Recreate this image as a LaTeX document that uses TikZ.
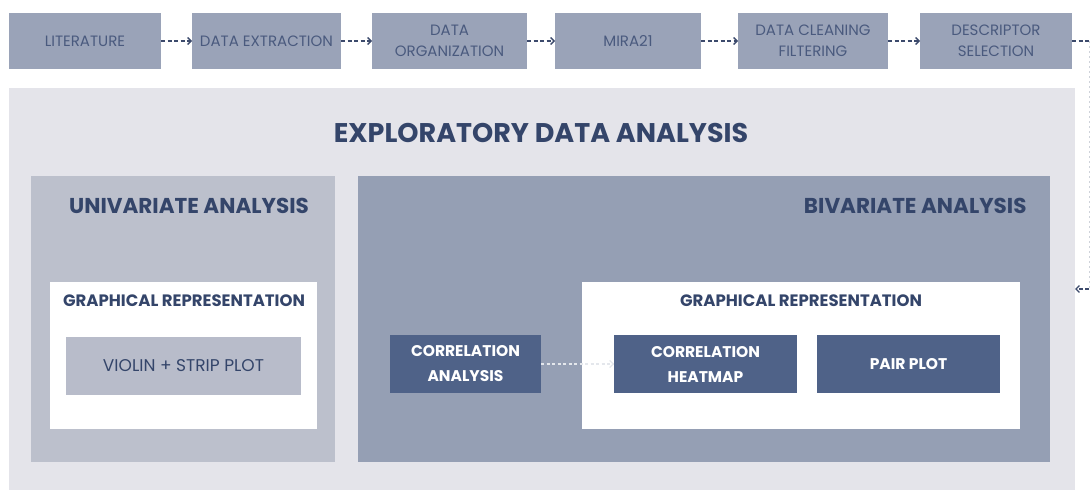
\documentclass[tikz,border=0pt]{standalone}
\usepackage{fontspec}
\setmainfont{Poppins}
\usetikzlibrary{arrows.meta}
\definecolor{topbox}{HTML}{9AA3B8}
\definecolor{toptext}{HTML}{4A5A7E}
\definecolor{edabg}{HTML}{E4E4EA}
\definecolor{unibg}{HTML}{BCC0CC}
\definecolor{bibg}{HTML}{959FB4}
\definecolor{violin}{HTML}{B8BCCA}
\definecolor{darkbox}{HTML}{4F6288}
\definecolor{titlec}{HTML}{34456A}
\definecolor{arrowc}{HTML}{3C4A6C}
\tikzset{
  box/.style={inner sep=0pt, outer sep=0pt, anchor=north west},
  topstep/.style={box, fill=topbox, text=toptext, font=\fontsize{15}{21}\selectfont, align=center},
  darkstep/.style={box, fill=darkbox, text=white, font=\fontsize{15.5}{25}\selectfont\bfseries, align=center},
  flow/.style={draw=arrowc, line width=1.3pt, dash pattern=on 4pt off 2.5pt, -{Straight Barb[length=3.5pt,width=7pt]}},
  faintflow/.style={draw=arrowc!25, line width=0.8pt, dash pattern=on 2pt off 3pt},
  lightflow/.style={draw=white!75!bibg, line width=1.2pt, dash pattern=on 3pt off 2.5pt, -{Straight Barb[length=3.5pt,width=7pt]}},
}
\begin{document}
\begin{tikzpicture}[x=1pt,y=-1pt]
\useasboundingbox (0,0) rectangle (1092,490);
\fill[white] (0,0) rectangle (1092,490);
% top row
\node[topstep, minimum width=152pt, minimum height=56pt] (lit) at (9,13) {LITERATURE};
\node[topstep, minimum width=149pt, minimum height=56pt] (ext) at (192,13) {DATA EXTRACTION};
\node[topstep, minimum width=155pt, minimum height=56pt] (org) at (372,13) {DATA\\ORGANIZATION};
\node[topstep, minimum width=146pt, minimum height=56pt] (mira) at (555,13) {MIRA21};
\node[topstep, minimum width=150pt, minimum height=56pt] (clean) at (738,13) {DATA CLEANING\\FILTERING};
\node[topstep, minimum width=152pt, minimum height=56pt] (desc) at (920,13) {DESCRIPTOR\\SELECTION};
% EDA
\node[box, fill=edabg, minimum width=1066pt, minimum height=402pt] (eda) at (9,88) {};
\node[text=titlec, font=\fontsize{27}{30}\selectfont\bfseries] (edat) at (541,133) {EXPLORATORY DATA ANALYSIS};
% univariate
\node[box, fill=unibg, minimum width=304pt, minimum height=286pt] (uni) at (31,176) {};
\node[text=titlec, font=\fontsize{21.5}{24}\selectfont\bfseries] (unit) at (189,206) {UNIVARIATE ANALYSIS};
\node[box, fill=white, minimum width=267pt, minimum height=147pt] (uniw) at (50,282) {};
\node[text=titlec, font=\fontsize{16.5}{18}\selectfont\bfseries] (unig) at (184,301) {GRAPHICAL REPRESENTATION};
\node[box, fill=violin, text=titlec, font=\fontsize{17}{20}\selectfont, minimum width=235pt, minimum height=58pt] (vio) at (66,337) {VIOLIN + STRIP PLOT};
% bivariate
\node[box, fill=bibg, minimum width=692pt, minimum height=286pt] (bi) at (358,176) {};
\node[text=titlec, font=\fontsize{21.5}{24}\selectfont\bfseries, anchor=east] (bit) at (1030,206) {BIVARIATE ANALYSIS};
\node[box, fill=white, minimum width=438pt, minimum height=147pt] (biw) at (582,282) {};
\node[text=titlec, font=\fontsize{16.5}{18}\selectfont\bfseries] (big) at (801,301) {GRAPHICAL REPRESENTATION};
\node[darkstep, minimum width=151pt, minimum height=58pt] (ca) at (390,335) {CORRELATION\\ANALYSIS};
\node[darkstep, minimum width=183pt, minimum height=58pt] (ch) at (614,335) {CORRELATION\\HEATMAP};
\node[darkstep, minimum width=183pt, minimum height=58pt] (pp) at (817,335) {PAIR PLOT};
% connectors
\draw[flow] (lit) -- (ext);
\draw[flow] (ext) -- (org);
\draw[flow] (org) -- (mira);
\draw[flow] (mira) -- (clean);
\draw[flow] (clean) -- (desc);
\coordinate (r1) at ([xshift=17pt]desc.east);
\coordinate (r2) at (r1 |- eda.east);
\draw[flow, -] (desc.east) -- (r1);
\draw[faintflow] (r1) -- (r2);
\draw[flow] (r2) -- (eda.east);
\draw[lightflow] (ca) -- (ch);
\end{tikzpicture}
\end{document}
